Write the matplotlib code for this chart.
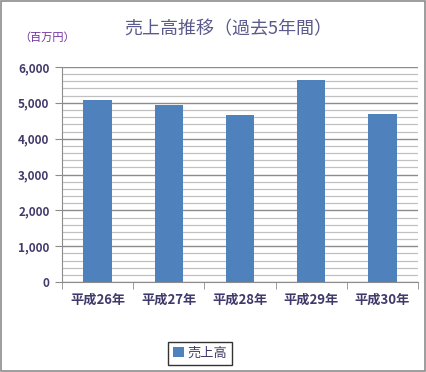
import matplotlib
matplotlib.use("Agg")
import matplotlib.pyplot as plt
import numpy as np
from matplotlib.ticker import MultipleLocator, FuncFormatter, FixedLocator

plt.rcParams['font.family'] = ['Noto Sans CJK JP', 'DejaVu Sans']

# data
years = ["平成26年", "平成27年", "平成28年", "平成29年", "平成30年"]
sales = [5080, 4940, 4660, 5640, 4690]

bar_color = "#4f81bd"
text_color = "#403a6a"

fig = plt.figure(figsize=(4.26, 3.72), dpi=100)
fig.patch.set_facecolor("white")
# gray frame round the whole chart
fig.patches.append(plt.Rectangle((0.002, 0.004), 0.995, 0.993, transform=fig.transFigure,
                                 fill=False, edgecolor="#8c8c8c", linewidth=1.2))

ax = fig.add_axes([0.1455, 0.2419, 0.8357, 0.578])
x = np.arange(len(years))
bars = ax.bar(x, sales, width=0.4, color=bar_color, label="売上高", zorder=3)

ax.set_xlim(-0.5, len(years) - 0.5)
ax.set_ylim(0, 6000)
ax.yaxis.set_major_locator(MultipleLocator(1000))
ax.yaxis.set_minor_locator(MultipleLocator(200))
ax.yaxis.set_major_formatter(FuncFormatter(lambda v, p: f"{int(v):,}"))
ax.grid(which="major", axis="y", color="#8c8c8c", linewidth=1.0, zorder=0)
ax.grid(which="minor", axis="y", color="#c0c0c0", linewidth=0.9, zorder=0)

ax.set_xticks(x)
ax.set_xticklabels(years)
ax.xaxis.set_minor_locator(FixedLocator(np.arange(-0.5, len(years), 1.0)))
ax.tick_params(axis="x", which="major", length=0, pad=8, labelsize=9.5, labelcolor=text_color)
ax.tick_params(axis="x", which="minor", length=5, color="#8c8c8c")
ax.tick_params(axis="y", which="major", length=5, color="#8c8c8c", labelsize=8.5,
               labelcolor=text_color, pad=4)
ax.tick_params(axis="y", which="minor", length=0)
for lab in ax.get_xticklabels() + ax.get_yticklabels():
    lab.set_fontweight("bold")

for side in ["top", "right"]:
    ax.spines[side].set_visible(False)
for side in ["left", "bottom"]:
    ax.spines[side].set_color("#8c8c8c")

fig.text(0.535, 0.92, "売上高推移（過去5年間）", ha="center", va="center",
         fontsize=13, color="#5a5a8c")
fig.text(0.045, 0.9, "（百万円）", ha="left", va="center", fontsize=8, color="#7030a0")

leg = fig.legend(handles=[bars], labels=["売上高"], loc="center", bbox_to_anchor=(0.47, 0.05),
                 frameon=True, fancybox=False, edgecolor="black", handlelength=0.8,
                 handleheight=0.8, handletextpad=0.3, borderpad=0.35, fontsize=9.5)
leg.get_frame().set_linewidth(1.0)
for t in leg.get_texts():
    t.set_color(text_color)

fig.savefig("out.png", dpi=100)
